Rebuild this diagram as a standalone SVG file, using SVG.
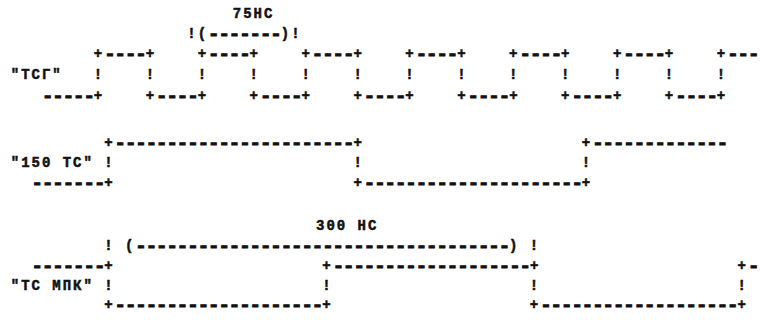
<svg xmlns="http://www.w3.org/2000/svg" width="760" height="320" viewBox="0 0 760 320">
<style>
text{font-family:"Liberation Mono","DejaVu Sans Mono",monospace;font-weight:bold;font-size:14px;letter-spacing:1.98px;fill:#111;stroke:#111;stroke-width:0.5px;white-space:pre}
.d{font-size:19px;letter-spacing:-1.02px;baseline-shift:-2px;stroke-width:1px}
</style>
<rect width="760" height="320" fill="#fff"/>
<g id="ann-75ns">
<text x="232.8" y="18">75НС</text>
<text x="187.3" y="38" xml:space="preserve">!(<tspan class="d">-------</tspan>)!</text>
</g>
<g id="sig-tsg">
<text x="93.8" y="58" xml:space="preserve">+<tspan class="d">----</tspan>+    +<tspan class="d">----</tspan>+    +<tspan class="d">----</tspan>+    +<tspan class="d">----</tspan>+    +<tspan class="d">----</tspan>+    +<tspan class="d">----</tspan>+    +<tspan class="d">---</tspan></text>
<text x="10.8" y="79" xml:space="preserve">"ТСГ"   !    !    !    !    !    !    !    !    !    !    !    !    !</text>
<text x="41.9" y="100" xml:space="preserve"><tspan class="d">-----</tspan>+    +<tspan class="d">----</tspan>+    +<tspan class="d">----</tspan>+    +<tspan class="d">----</tspan>+    +<tspan class="d">----</tspan>+    +<tspan class="d">----</tspan>+    +<tspan class="d">----</tspan>+</text>
</g>
<g id="sig-150ts">
<text x="104.2" y="147" xml:space="preserve">+<tspan class="d">-----------------------</tspan>+                     +<tspan class="d">-------------</tspan></text>
<text x="10.8" y="167" xml:space="preserve">"150 ТС" !                       !                     !</text>
<text x="31.6" y="187" xml:space="preserve"><tspan class="d">-------</tspan>+                       +<tspan class="d">---------------------</tspan>+</text>
</g>
<g id="ann-300ns">
<text x="316" y="230">300 НС</text>
<text x="104.2" y="250" xml:space="preserve">! (<tspan class="d">------------------------------------</tspan>) !</text>
</g>
<g id="sig-ts-mpk">
<text x="31.6" y="270" xml:space="preserve"><tspan class="d">-------</tspan>+                    +<tspan class="d">-------------------</tspan>+                   +<tspan class="d">-</tspan></text>
<text x="10.8" y="290" xml:space="preserve">"ТС МПК" !                    !                   !                   !</text>
<text x="104.2" y="309" xml:space="preserve">+<tspan class="d">--------------------</tspan>+                   +<tspan class="d">-------------------</tspan>+</text>
</g>
</svg>
